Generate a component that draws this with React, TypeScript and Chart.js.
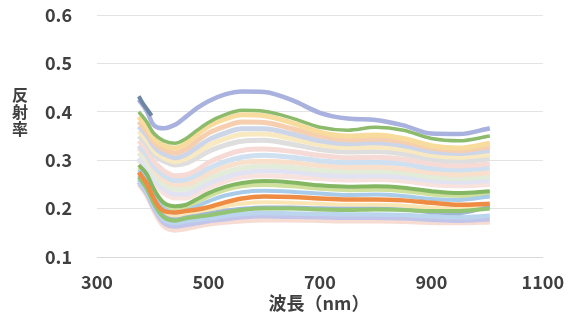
import React, { useEffect, useRef } from "react";
import { Chart, registerables } from "chart.js";

Chart.register(...registerables);

// Wavelengths (nm) shared by all spectra
const wavelengths = [375, 390, 400, 410, 420, 440, 460, 480, 500, 530, 560, 600, 650, 700, 750, 800, 850, 900, 950, 1005];

// Reflectance spectra (top to bottom)
const sLavenderTop = [0.425, 0.4, 0.375, 0.367, 0.366, 0.373, 0.39, 0.408, 0.422, 0.436, 0.442, 0.441, 0.424, 0.398, 0.386, 0.383, 0.372, 0.355, 0.354, 0.366];
const sGreenUpper = [0.4, 0.378, 0.358, 0.347, 0.34, 0.335, 0.345, 0.362, 0.378, 0.394, 0.403, 0.401, 0.387, 0.368, 0.362, 0.368, 0.362, 0.345, 0.34, 0.35];
const sYellowUpper = [0.39, 0.368, 0.348, 0.337, 0.33, 0.325, 0.335, 0.353, 0.37, 0.385, 0.394, 0.392, 0.377, 0.358, 0.35, 0.352, 0.345, 0.33, 0.325, 0.335];
const sPeachUpper = [0.38, 0.358, 0.34, 0.329, 0.322, 0.315, 0.323, 0.34, 0.356, 0.37, 0.379, 0.378, 0.365, 0.35, 0.342, 0.344, 0.338, 0.325, 0.32, 0.328];
const sBlueGray = [0.37, 0.35, 0.332, 0.32, 0.313, 0.305, 0.312, 0.327, 0.342, 0.356, 0.365, 0.365, 0.354, 0.34, 0.334, 0.336, 0.33, 0.318, 0.314, 0.32];
const sPaleYellow = [0.36, 0.34, 0.323, 0.312, 0.305, 0.297, 0.303, 0.316, 0.33, 0.344, 0.353, 0.354, 0.344, 0.332, 0.326, 0.327, 0.322, 0.31, 0.306, 0.312];
const sLightGray = [0.35, 0.332, 0.315, 0.304, 0.298, 0.29, 0.294, 0.305, 0.318, 0.331, 0.339, 0.341, 0.333, 0.322, 0.317, 0.318, 0.313, 0.302, 0.298, 0.303];
const sPalePink = [0.34, 0.32, 0.3, 0.288, 0.278, 0.268, 0.27, 0.28, 0.295, 0.31, 0.32, 0.323, 0.318, 0.31, 0.305, 0.306, 0.302, 0.292, 0.288, 0.292];
const sLightBlue = [0.33, 0.31, 0.29, 0.278, 0.268, 0.258, 0.26, 0.27, 0.283, 0.297, 0.306, 0.31, 0.306, 0.299, 0.295, 0.296, 0.292, 0.283, 0.28, 0.284];
const sPalePeach = [0.325, 0.305, 0.285, 0.27, 0.26, 0.25, 0.25, 0.26, 0.272, 0.286, 0.295, 0.298, 0.295, 0.289, 0.285, 0.286, 0.282, 0.274, 0.27, 0.274];
const sPaleGreen = [0.315, 0.295, 0.275, 0.26, 0.25, 0.24, 0.24, 0.25, 0.262, 0.275, 0.284, 0.288, 0.285, 0.279, 0.276, 0.277, 0.273, 0.265, 0.262, 0.266];
const sPaleLavender = [0.305, 0.285, 0.265, 0.25, 0.24, 0.23, 0.23, 0.24, 0.252, 0.265, 0.274, 0.278, 0.276, 0.27, 0.267, 0.268, 0.265, 0.258, 0.255, 0.258];
const sPalePink2 = [0.3, 0.28, 0.258, 0.243, 0.232, 0.222, 0.222, 0.232, 0.243, 0.256, 0.265, 0.268, 0.266, 0.262, 0.259, 0.26, 0.257, 0.25, 0.247, 0.25];
const sGreen = [0.29, 0.27, 0.245, 0.225, 0.212, 0.205, 0.208, 0.22, 0.232, 0.245, 0.253, 0.257, 0.254, 0.248, 0.245, 0.246, 0.243, 0.236, 0.232, 0.236];
const sYellowGreen = [0.285, 0.265, 0.24, 0.22, 0.207, 0.2, 0.203, 0.213, 0.225, 0.238, 0.246, 0.249, 0.246, 0.241, 0.238, 0.239, 0.236, 0.229, 0.226, 0.229];
const sSkyBlue = [0.28, 0.258, 0.232, 0.212, 0.2, 0.192, 0.196, 0.205, 0.215, 0.227, 0.234, 0.237, 0.235, 0.231, 0.228, 0.229, 0.226, 0.22, 0.218, 0.225];
const sOrange = [0.275, 0.25, 0.225, 0.205, 0.195, 0.192, 0.195, 0.198, 0.203, 0.213, 0.221, 0.225, 0.224, 0.221, 0.219, 0.219, 0.217, 0.212, 0.208, 0.21];
const sPaleYellow2 = [0.27, 0.245, 0.22, 0.2, 0.188, 0.183, 0.186, 0.19, 0.197, 0.205, 0.21, 0.213, 0.212, 0.21, 0.208, 0.208, 0.206, 0.202, 0.2, 0.205];
const sSteelBlue = [0.268, 0.243, 0.218, 0.198, 0.185, 0.178, 0.182, 0.186, 0.19, 0.196, 0.2, 0.203, 0.203, 0.201, 0.2, 0.2, 0.198, 0.192, 0.19, 0.205];
const sGreenLight = [0.265, 0.24, 0.215, 0.195, 0.182, 0.175, 0.18, 0.183, 0.186, 0.192, 0.197, 0.2, 0.2, 0.198, 0.197, 0.198, 0.197, 0.195, 0.195, 0.2];
const sLightBlue2 = [0.26, 0.235, 0.21, 0.19, 0.177, 0.17, 0.174, 0.177, 0.18, 0.185, 0.189, 0.191, 0.19, 0.189, 0.188, 0.188, 0.187, 0.184, 0.182, 0.185];
const sLavender = [0.255, 0.23, 0.205, 0.185, 0.17, 0.163, 0.166, 0.17, 0.174, 0.178, 0.182, 0.184, 0.183, 0.182, 0.181, 0.181, 0.18, 0.177, 0.175, 0.178];
const sPeachBottom = [0.25, 0.225, 0.2, 0.178, 0.163, 0.155, 0.158, 0.163, 0.167, 0.171, 0.174, 0.176, 0.176, 0.175, 0.174, 0.174, 0.173, 0.171, 0.17, 0.172];

// Noisy dark start of the topmost spectra
const darkStartWl = [375, 382, 390, 398];
const darkStartVals = [0.432, 0.418, 0.405, 0.392];

// Axis ticks
const xTicks = [300, 500, 700, 900, 1100];
const yTicks = [0.1, 0.2, 0.3, 0.4, 0.5, 0.6];

const seriesList: { vals: number[]; color: string; order: number; width: number }[] = [
  { vals: sLavenderTop, color: "#a9b1de", order: 2, width: 4.5 },
  { vals: sGreenUpper, color: "#8cbb6b", order: 3, width: 3.5 },
  { vals: sYellowUpper, color: "#f8dc9e", order: 10, width: 5 },
  { vals: sPeachUpper, color: "#f6cfb0", order: 11, width: 5 },
  { vals: sBlueGray, color: "#cdd6e8", order: 12, width: 5 },
  { vals: sPaleYellow, color: "#f9e9c0", order: 13, width: 5 },
  { vals: sLightGray, color: "#dedede", order: 14, width: 5 },
  { vals: sPalePink, color: "#f5dad6", order: 15, width: 5 },
  { vals: sLightBlue, color: "#cfe0f0", order: 16, width: 5 },
  { vals: sPalePeach, color: "#f9e0cc", order: 17, width: 5 },
  { vals: sPaleGreen, color: "#e3ebd9", order: 18, width: 5 },
  { vals: sPaleLavender, color: "#e1e2f2", order: 19, width: 5 },
  { vals: sPalePink2, color: "#f7e2de", order: 20, width: 5 },
  { vals: sGreen, color: "#84b763", order: 4, width: 4 },
  { vals: sYellowGreen, color: "#cfdf9c", order: 8, width: 4 },
  { vals: sSkyBlue, color: "#a8cbea", order: 7, width: 4 },
  { vals: sOrange, color: "#ee8c44", order: 1, width: 4.5 },
  { vals: sPaleYellow2, color: "#f9e6b4", order: 9, width: 4 },
  { vals: sSteelBlue, color: "#9fb6d4", order: 6, width: 3.5 },
  { vals: sGreenLight, color: "#93c474", order: 5, width: 4 },
  { vals: sLightBlue2, color: "#bcd5ee", order: 21, width: 4.5 },
  { vals: sLavender, color: "#c2c5ea", order: 22, width: 4.5 },
  { vals: sPeachBottom, color: "#f6dcd2", order: 23, width: 4.5 },
];

const TEXT_COLOR = "#404040";
const FONT_FAMILY = "'Noto Sans CJK JP', 'Noto Sans', sans-serif";

const titlePlugin = {
  id: "customTitles",
  afterDraw(chart: any) {
    const ctx = chart.ctx;
    ctx.save();
    ctx.fillStyle = TEXT_COLOR;
    ctx.textAlign = "center";
    ctx.textBaseline = "middle";
    ctx.font = `bold 16px ${FONT_FAMILY}`;
    const yTitle = ["反", "射", "率"];
    yTitle.forEach((ch, i) => ctx.fillText(ch, 20, 95 + i * 17));
    ctx.font = `bold 18px ${FONT_FAMILY}`;
    ctx.fillText("波長（nm）", 319, 303);
    ctx.restore();
  },
};

export default function App() {
  const canvasRef = useRef<HTMLCanvasElement | null>(null);

  useEffect(() => {
    if (!canvasRef.current) return;
    const datasets: any[] = seriesList.map((s, i) => ({
      label: `S${i + 1}`,
      data: wavelengths.map((w, j) => ({ x: w, y: s.vals[j] })),
      borderColor: s.color,
      backgroundColor: s.color,
      borderWidth: s.width,
      pointRadius: 0,
      tension: 0.4,
      cubicInterpolationMode: "monotone",
      fill: false,
      order: s.order,
    }));
    datasets.push({
      label: "start",
      data: darkStartWl.map((w, j) => ({ x: w, y: darkStartVals[j] })),
      borderColor: "#6d87a3",
      backgroundColor: "#6d87a3",
      borderWidth: 4,
      pointRadius: 0,
      tension: 0.3,
      fill: false,
      order: 0,
    });

    const chart = new Chart(canvasRef.current, {
      type: "line",
      data: { datasets },
      options: {
        animation: false,
        responsive: false,
        layout: { padding: { left: 0, top: 15, right: 25, bottom: 0 } },
        plugins: { legend: { display: false }, tooltip: { enabled: false } },
        scales: {
          x: {
            type: "linear",
            min: 300,
            max: 1100,
            afterBuildTicks: (scale: any) => {
              scale.ticks = xTicks.map((v) => ({ value: v }));
            },
            afterFit: (scale: any) => {
              scale.height = 63;
            },
            grid: { display: false, drawTicks: false },
            border: { display: true, color: "#d9d9d9", width: 1 },
            ticks: {
              padding: 14,
              color: TEXT_COLOR,
              font: { family: FONT_FAMILY, size: 18, weight: "bold" },
              maxRotation: 0,
              callback: (v: any) => String(v),
            },
          },
          y: {
            type: "linear",
            min: 0.1,
            max: 0.6,
            afterBuildTicks: (scale: any) => {
              scale.ticks = yTicks.map((v) => ({ value: v }));
            },
            afterFit: (scale: any) => {
              scale.width = 97;
              scale.paddingTop = 10;
              scale.paddingBottom = 10;
            },
            grid: { color: "#e3e3e3", lineWidth: 1, drawTicks: false },
            border: { display: false },
            ticks: {
              padding: 25,
              color: TEXT_COLOR,
              font: { family: FONT_FAMILY, size: 18, weight: "bold" },
              callback: (v: any) => Number(v).toFixed(1),
            },
          },
        },
      },
      plugins: [titlePlugin],
    } as any);
    return () => chart.destroy();
  }, []);

  return (
    <div style={{ position: "absolute", left: 0, top: 0, width: 578, height: 320, background: "#ffffff" }}>
      <canvas ref={canvasRef} width={578} height={320} />
    </div>
  );
}
